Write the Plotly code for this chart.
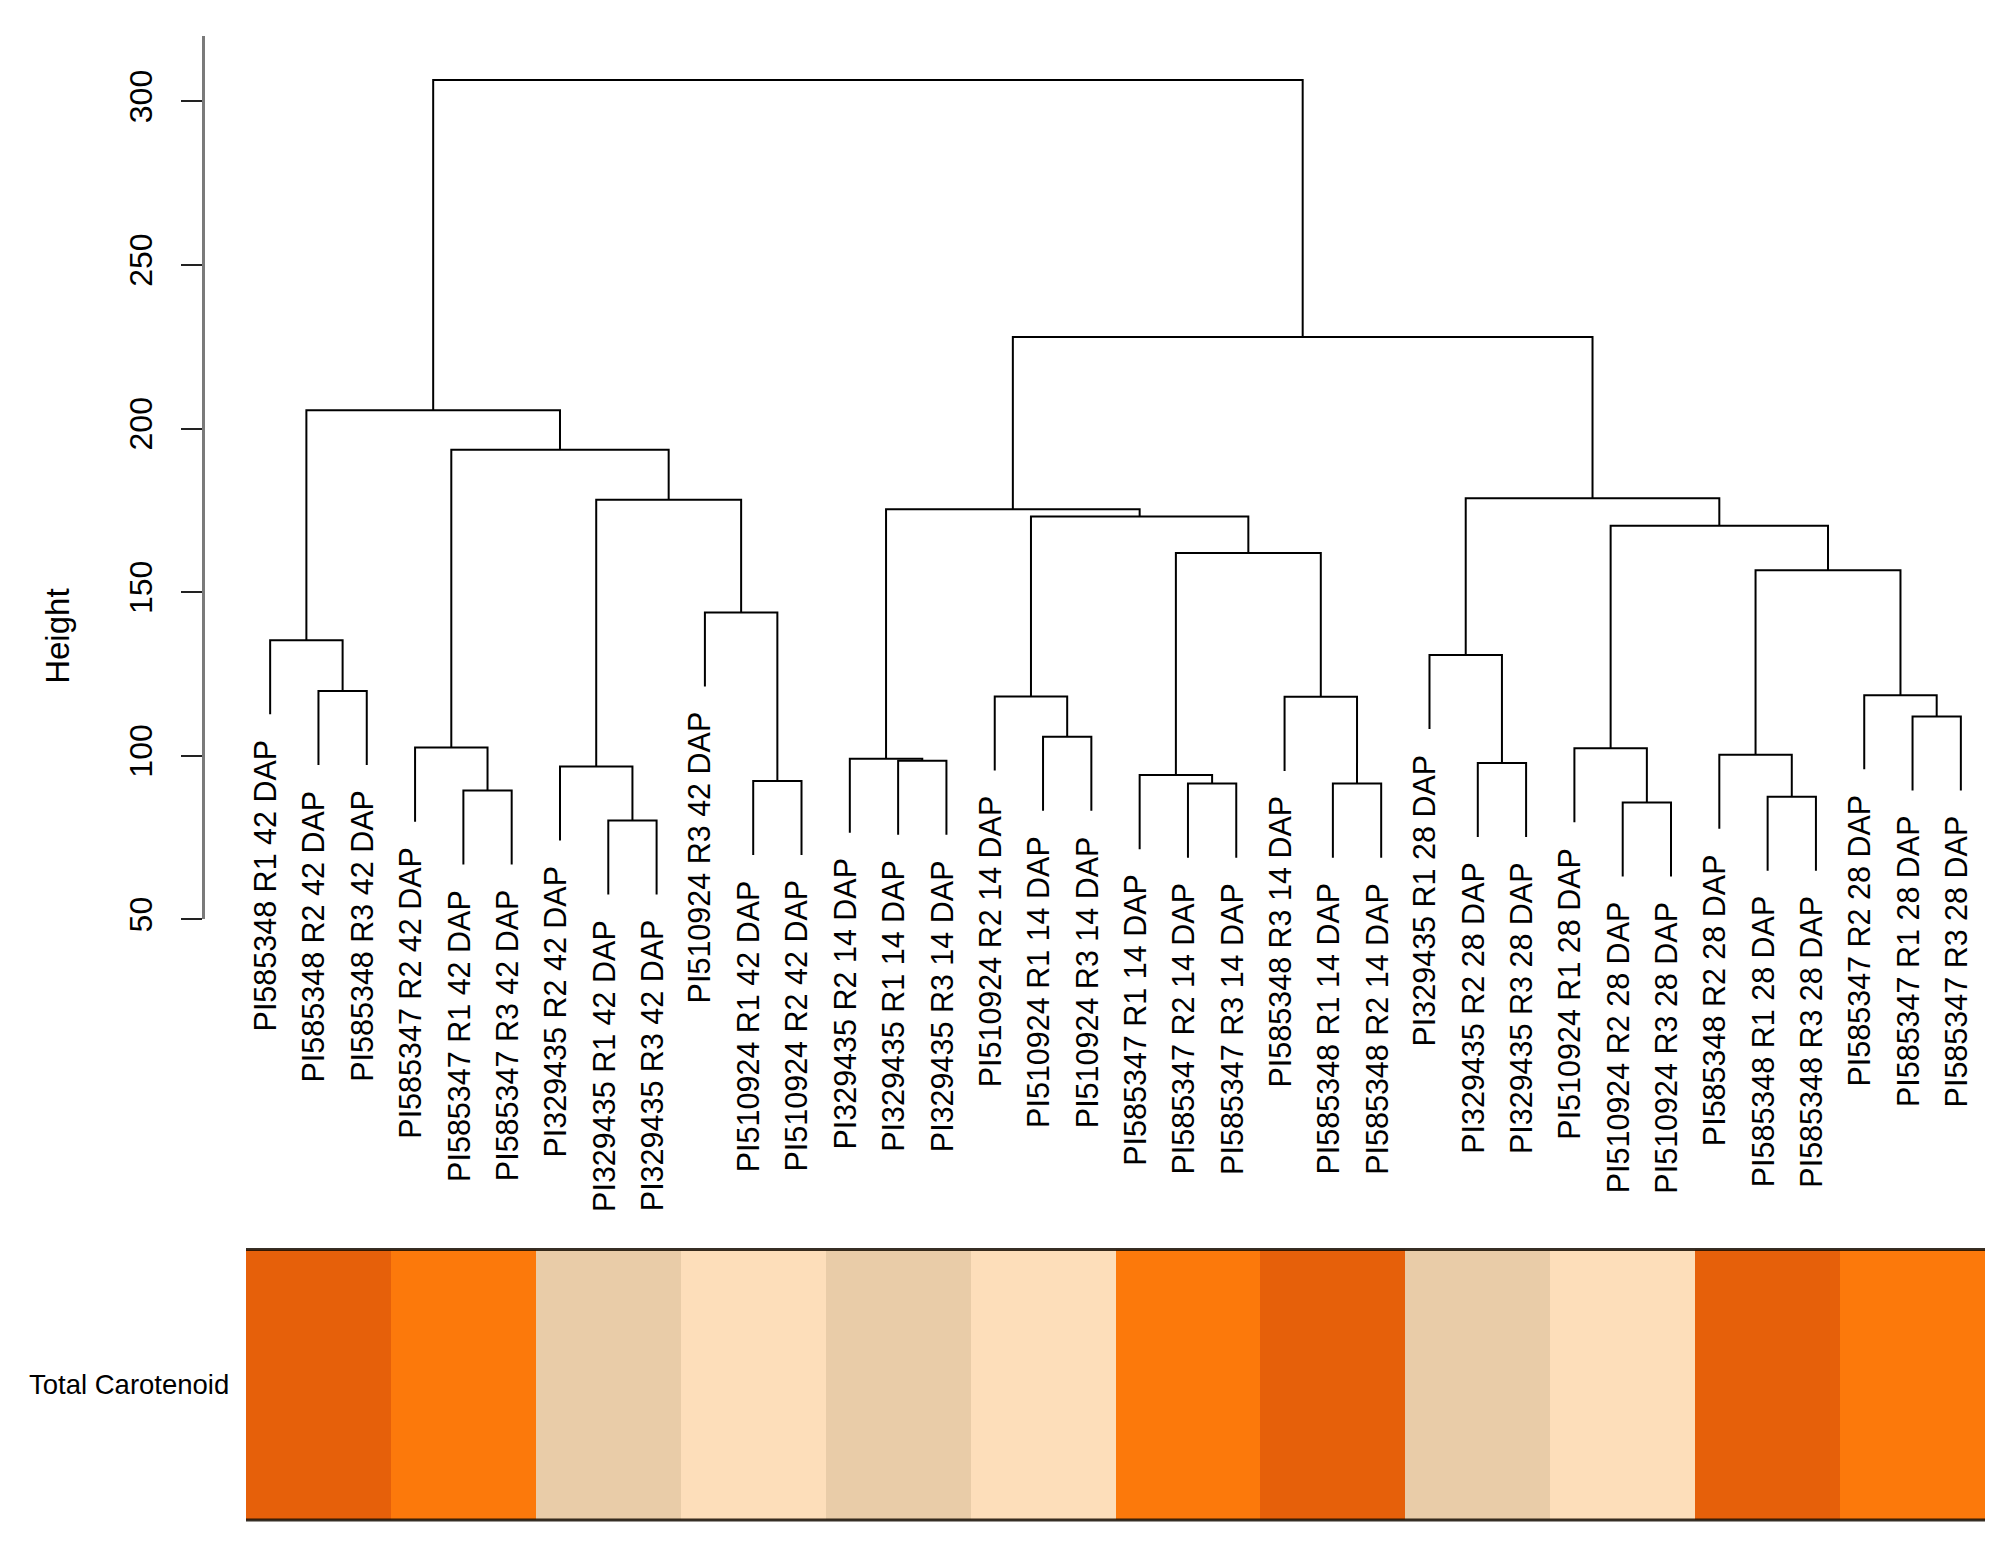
import plotly.graph_objects as go

# ---------------- data ----------------
leaf_labels = [
    "PI585348 R1 42 DAP", "PI585348 R2 42 DAP", "PI585348 R3 42 DAP",
    "PI585347 R2 42 DAP", "PI585347 R1 42 DAP", "PI585347 R3 42 DAP",
    "PI329435 R2 42 DAP", "PI329435 R1 42 DAP", "PI329435 R3 42 DAP",
    "PI510924 R3 42 DAP", "PI510924 R1 42 DAP", "PI510924 R2 42 DAP",
    "PI329435 R2 14 DAP", "PI329435 R1 14 DAP", "PI329435 R3 14 DAP",
    "PI510924 R2 14 DAP", "PI510924 R1 14 DAP", "PI510924 R3 14 DAP",
    "PI585347 R1 14 DAP", "PI585347 R2 14 DAP", "PI585347 R3 14 DAP",
    "PI585348 R3 14 DAP", "PI585348 R1 14 DAP", "PI585348 R2 14 DAP",
    "PI329435 R1 28 DAP", "PI329435 R2 28 DAP", "PI329435 R3 28 DAP",
    "PI510924 R1 28 DAP", "PI510924 R2 28 DAP", "PI510924 R3 28 DAP",
    "PI585348 R2 28 DAP", "PI585348 R1 28 DAP", "PI585348 R3 28 DAP",
    "PI585347 R2 28 DAP", "PI585347 R1 28 DAP", "PI585347 R3 28 DAP",
]

# hclust-style merge table: negative = leaf (1-based position), positive = earlier merge (1-based)
merge_left = [-2, -1, -5, -4, -8, -7, -11, -10, 6, 4, 2,
              -14, -13, -17, -16, -20, -19, -23, -22, 17, 15, 13,
              -26, -25, -29, -28, -32, -31, -35, -34, 28, 26, 24, 22, 11]
merge_right = [-3, 1, -6, 3, -9, 5, -12, 7, 8, 9, 10,
               -15, 12, -18, 14, -21, 16, -24, 18, 19, 20, 21,
               -27, 23, -30, 25, -33, 27, -36, 29, 30, 31, 32, 33, 34]
merge_height = [119.8, 135.3, 89.4, 102.5, 80.2, 96.7, 92.3, 143.8, 178.2, 193.5, 205.6,
                98.5, 99.1, 105.8, 118.1, 91.5, 94.1, 91.5, 118.0, 162.0, 173.1, 175.3,
                97.8, 130.8, 85.7, 102.3, 87.5, 100.3, 112.0, 118.5, 156.7, 170.3, 178.7,
                228.0, 306.5]

# Total carotenoid level per leaf (1 = lowest ... 4 = highest)
carotenoid_level = [4, 4, 4, 3, 3, 3, 2, 2, 2, 1, 1, 1,
                    2, 2, 2, 1, 1, 1, 3, 3, 3, 4, 4, 4,
                    2, 2, 2, 1, 1, 1, 4, 4, 4, 3, 3, 3]

y_ticks = [50, 100, 150, 200, 250, 300]
y_range = [50, 320]

# ---------------- geometry from merge table ----------------
n = len(leaf_labels)
hang = 0.1 * (max(merge_height) - min(merge_height))
merge_x = []

def node_x(ref):
    return float(-ref) if ref < 0 else merge_x[ref - 1]

def node_bottom(ref, parent_h):
    return parent_h - hang if ref < 0 else merge_height[ref - 1]

xs, ys = [], []
leaf_end = {}
for a, b, h in zip(merge_left, merge_right, merge_height):
    xa, xb = node_x(a), node_x(b)
    ya, yb = node_bottom(a, h), node_bottom(b, h)
    xs += [xa, xa, xb, xb, None]
    ys += [ya, h, h, yb, None]
    merge_x.append((xa + xb) / 2)
    for r in (a, b):
        if r < 0:
            leaf_end[-r] = h - hang

# layout frame (target picture is 2008 x 1548)
W, H = 2008, 1548
FIG_H = 1563  # page height used by the capture

def fx(X):  # target pixel -> paper x
    return X / W

def fy(Y):  # target pixel -> paper y
    return 1 - Y / H

fig = go.Figure()

fig.add_trace(go.Scatter(
    x=xs, y=ys, mode="lines",
    line=dict(color="#000000", width=2),
    hoverinfo="skip", showlegend=False, xaxis="x", yaxis="y",
))

# colour bar
scale_colors = ["#FDDEBA", "#E9CCA8", "#FC790B", "#E6600A"]
cs = []
for i, c in enumerate(scale_colors):
    cs.append([i / 4, c])
    cs.append([(i + 1) / 4, c])
fig.add_trace(go.Heatmap(
    x=list(range(1, n + 1)), y=[0], z=[carotenoid_level],
    zmin=0.5, zmax=4.5, colorscale=cs, showscale=False,
    hoverinfo="skip", xaxis="x", yaxis="y2",
))

font_family = "Liberation Sans, Arial, Helvetica, sans-serif"
annotations = []
for i, lab in enumerate(leaf_labels, start=1):
    annotations.append(dict(
        x=i, y=leaf_end[i], xref="x", yref="y", text=lab, showarrow=False,
        textangle=-90, xanchor="center", yanchor="top", yshift=-24, xshift=-5,
        borderpad=0, font=dict(family=font_family, size=30.5, color="#000000"),
    ))

annotations.append(dict(
    x=fx(58), y=fy(636), xref="paper", yref="paper", text="Height",
    showarrow=False, textangle=-90, xanchor="center", yanchor="middle",
    font=dict(family=font_family, size=33, color="#000000"),
))
annotations.append(dict(
    x=fx(231), y=fy(1383), xref="paper", yref="paper", text="Total Carotenoid",
    showarrow=False, xanchor="right", yanchor="middle",
    font=dict(family=font_family, size=27.5, color="#000000"),
))

shapes = []
for yy in (0, 1):
    shapes.append(dict(type="line", xref="x", yref="y2 domain", x0=0.5, x1=n + 0.5,
                       y0=yy, y1=yy, line=dict(color="rgba(20,10,0,0.85)", width=3)))

fig.update_layout(
    width=W, height=FIG_H,
    margin=dict(l=0, r=0, t=0, b=0),
    paper_bgcolor="white", plot_bgcolor="white",
    showlegend=False,
    xaxis=dict(domain=[fx(246), fx(1985)], range=[0.5, n + 0.5], visible=False),
    yaxis=dict(
        domain=[fy(918.2), fy(35.8)], range=y_range,
        anchor="free", position=fx(203),
        showline=True, linecolor="#7a7a7a", linewidth=3,
        ticks="outside", ticklen=21, tickwidth=2, tickcolor="#222222",
        ticklabelstandoff=16,
        tickvals=y_ticks, ticktext=[str(t) for t in y_ticks], tickangle=-90,
        tickfont=dict(family=font_family, size=32, color="#000000"),
        showgrid=False, zeroline=False,
    ),
    yaxis2=dict(domain=[fy(1518), fy(1248)], range=[-0.5, 0.5],
                visible=False, anchor="x"),
    annotations=annotations,
    shapes=shapes,
)

# place the fixed-size figure flush with the page corner (no default body margin)
fig.write_html(
    "out.html",
    config={"displayModeBar": False},
    post_script="document.body.style.margin='0';document.body.style.padding='0';"
                "document.documentElement.style.overflow='hidden';",
)
